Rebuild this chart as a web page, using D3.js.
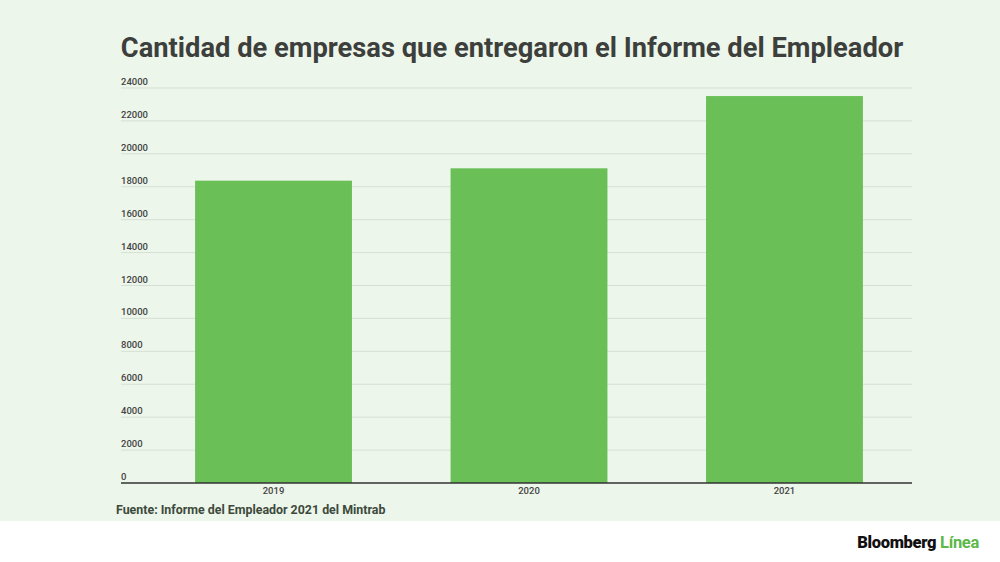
<!DOCTYPE html>
<html>
<head>
<meta charset="utf-8">
<script src="https://cdn.jsdelivr.net/npm/d3@7"></script>
<style>
  body { margin: 0; background: #ffffff; }
  svg { display: block; font-family: Roboto, "Noto Sans", sans-serif; }
</style>
</head>
<body>
<svg id="chart"></svg>
<script>
const years = ["2019", "2020", "2021"];
const empresas = [18370, 19120, 23510];
const yTicks = [0, 2000, 4000, 6000, 8000, 10000, 12000, 14000, 16000, 18000, 20000, 22000, 24000];

const width = 1000, height = 562;
const svg = d3.select("#chart")
    .attr("width", width)
    .attr("height", height);

// green panel behind the chart
svg.append("rect")
    .attr("x", 0).attr("y", 0)
    .attr("width", width).attr("height", 521)
    .attr("fill", "#edf6ea");

svg.append("text")
    .attr("x", 512)
    .attr("y", 57)
    .attr("text-anchor", "middle")
    .attr("font-size", 27.3)
    .attr("font-weight", 700)
    .attr("fill", "#3c3f3c")
    .text("Cantidad de empresas que entregaron el Informe del Empleador");

const plotLeft = 121, plotRight = 912, plotTop = 88, plotBottom = 483;

const y = d3.scaleLinear()
    .domain([0, 24000])
    .range([plotBottom, plotTop]);

const x = d3.scaleBand()
    .domain(years)
    .range([plotLeft, 937])
    .paddingInner(0.386)
    .paddingOuter(0.29);

// gridlines + labels
const grid = svg.append("g");
grid.selectAll("line")
    .data(yTicks.filter(d => d > 0))
    .enter()
    .append("line")
    .attr("x1", plotLeft).attr("x2", plotRight)
    .attr("y1", d => y(d)).attr("y2", d => y(d))
    .attr("stroke", "#d6dfd3")
    .attr("stroke-width", 1);

grid.selectAll("text")
    .data(yTicks)
    .enter()
    .append("text")
    .attr("x", plotLeft)
    .attr("y", d => y(d) - 3)
    .attr("font-size", 9.5)
    .attr("font-weight", 500)
    .attr("fill", "#444")
    .text(d => d);

// bars
svg.append("g")
    .selectAll("rect")
    .data(years)
    .enter()
    .append("rect")
    .attr("x", d => x(d))
    .attr("y", (d, i) => y(empresas[i]))
    .attr("width", x.bandwidth())
    .attr("height", (d, i) => plotBottom - y(empresas[i]))
    .attr("fill", "#6abf56");

// baseline
svg.append("line")
    .attr("x1", plotLeft).attr("x2", plotRight)
    .attr("y1", plotBottom).attr("y2", plotBottom)
    .attr("stroke", "#333")
    .attr("stroke-width", 1.5);

svg.append("g")
    .selectAll("text")
    .data(years)
    .enter()
    .append("text")
    .attr("x", d => x(d) + x.bandwidth() / 2)
    .attr("y", 494)
    .attr("text-anchor", "middle")
    .attr("font-size", 9.5)
    .attr("font-weight", 500)
    .attr("fill", "#444")
    .text(d => d);

svg.append("text")
    .attr("x", 116)
    .attr("y", 514)
    .attr("font-size", 12.4)
    .attr("font-weight", 700)
    .attr("fill", "#3c4a3c")
    .text("Fuente: Informe del Empleador 2021 del Mintrab");

// logo
const logo = svg.append("text")
    .attr("x", 979)
    .attr("y", 548)
    .attr("text-anchor", "end")
    .attr("font-size", 16.5)
    .attr("font-weight", 900)
    .attr("letter-spacing", -0.3);
logo.append("tspan").attr("fill", "#111").text("Bloomberg ");
logo.append("tspan").attr("fill", "#5cb848").attr("font-weight", 700).text("Línea");
</script>
</body>
</html>
